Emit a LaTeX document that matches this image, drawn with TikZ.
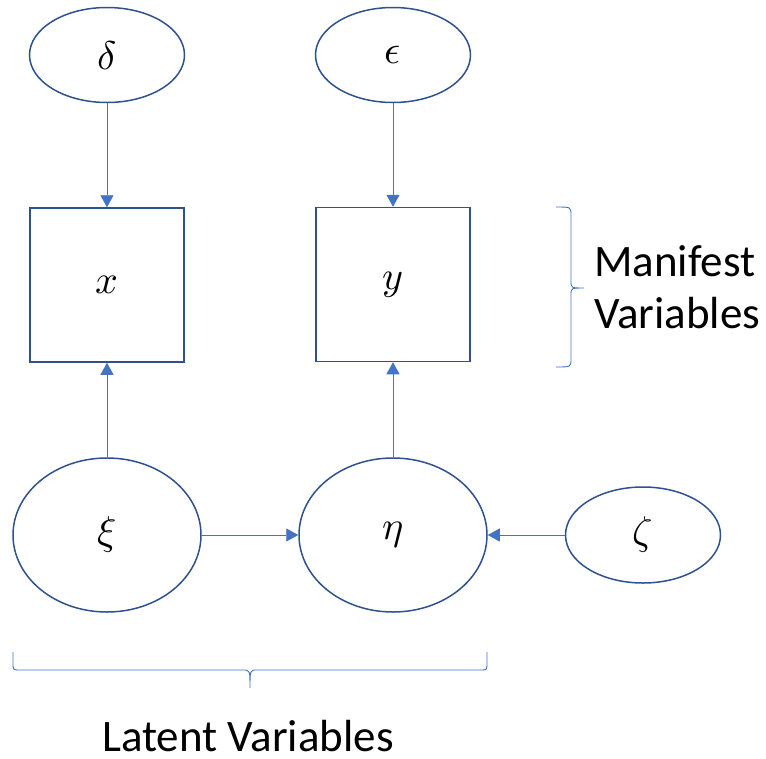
\documentclass[tikz,border=0pt]{standalone}
\usepackage{fontspec}
\usepackage{unicode-math}
\setmainfont{Carlito}
\setmathfont{Latin Modern Math}
\usetikzlibrary{shapes.geometric,arrows.meta}
\definecolor{edgeblue}{HTML}{2F528F}
\definecolor{linkblue}{HTML}{4472C4}
\begin{document}
\begin{tikzpicture}[x=1pt,y=-1pt,
  latent/.style={ellipse,draw=edgeblue,line width=1.5pt,inner sep=0pt,font=\fontsize{40}{46}\selectfont},
  manifest/.style={rectangle,draw=edgeblue,line width=1.5pt,minimum width=154pt,minimum height=154pt,inner sep=0pt,font=\fontsize{40}{46}\selectfont},
  link/.style={draw=linkblue,line width=0.9pt,-{Triangle[width=13pt,length=12pt]}},
  brace/.style={draw=linkblue,line width=0.9pt}]
\useasboundingbox (0,0) rectangle (766,758);

\node[latent,minimum width=155pt,minimum height=95pt] (delta) at (107,55) {$\delta$};
\node[latent,minimum width=155pt,minimum height=95pt] (eps) at (393,55) {$\epsilon$};
\node[manifest] (x) at (107,285) {$x$};
\node[manifest] (y) at (393,284.5) {$y$};
\node[latent,minimum width=188pt,minimum height=154pt] (xi) at (107,535) {$\xi$};
\node[latent,minimum width=188pt,minimum height=154pt] (eta) at (393,535) {$\eta$};
\node[latent,minimum width=155pt,minimum height=96pt] (zeta) at (643,535) {$\zeta$};

\draw[link] (delta) -- (x);
\draw[link] (eps) -- (y);
\draw[link] (xi) -- (x);
\draw[link] (eta) -- (y);
\draw[link] (xi) -- (eta);
\draw[link] (zeta) -- (eta);

\draw[brace] (556,207) .. controls (571,207) .. (571,215) -- (571,281)
  .. controls (571,288) .. (584,288) .. controls (571,288) .. (571,295)
  -- (571,359) .. controls (571,367) .. (556,367);
\draw[brace] (13,652) -- (13,663) .. controls (13,670) .. (20,670) -- (243,670)
  .. controls (250,670) .. (250,688) .. controls (250,670) .. (257,670)
  -- (480,670) .. controls (487,670) .. (487,663) -- (487,652);

\node[align=left,anchor=base west,inner sep=0pt,font=\fontsize{45}{52}\selectfont] (mlabel) at (594,328) {Manifest\\Variables};
\node[anchor=base,inner sep=0pt,text depth=0pt,font=\fontsize{45}{52}\selectfont] (llabel) at (248,751) {Latent Variables};
\end{tikzpicture}
\end{document}
